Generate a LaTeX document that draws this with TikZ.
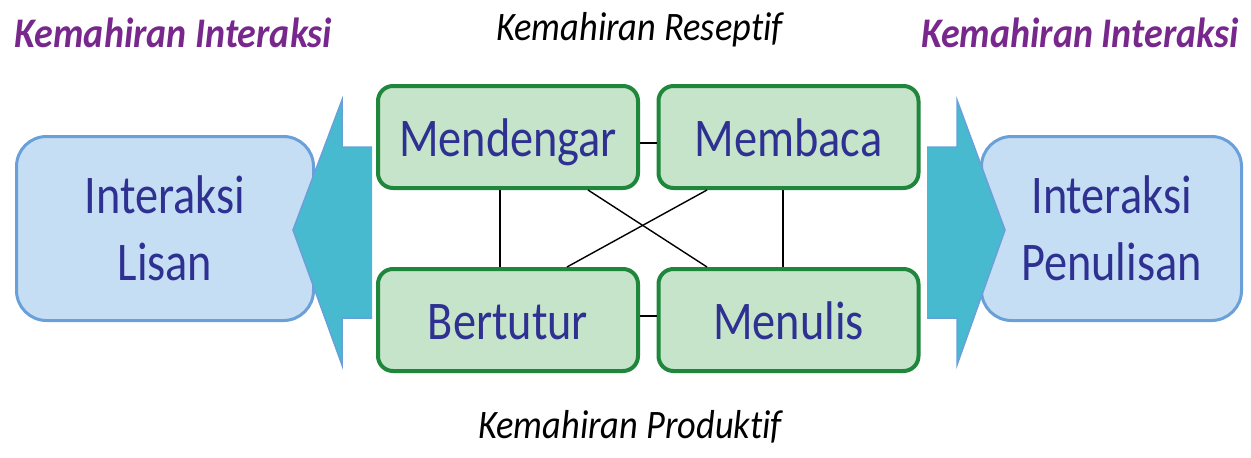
\documentclass[tikz,border=0pt]{standalone}
\usepackage{fontspec}
\setmainfont{Carlito}
\newfontfamily\boxfont[FakeStretch=0.85]{Carlito}
\newfontfamily\headfont[FakeStretch=0.9, Ligatures=NoCommon]{Carlito}

\definecolor{skillfill}{RGB}{197,228,201}
\definecolor{skillline}{RGB}{30,135,60}
\definecolor{modefill}{RGB}{198,222,243}
\definecolor{modeline}{RGB}{105,160,218}
\definecolor{arrowfill}{RGB}{72,186,208}
\definecolor{labelblue}{RGB}{46,49,146}
\definecolor{headpurple}{RGB}{120,40,140}

\tikzset{
	skill/.style={draw=skillline, fill=skillfill, line width=0.08cm, rounded corners=0.3cm,
		minimum width=5.2cm, minimum height=2.04cm, text=labelblue,
		text height=0.96cm, text depth=0.2cm,
		font=\boxfont\fontsize{31}{36}\selectfont},
	mode/.style={draw=modeline, fill=modefill, line width=0.06cm, rounded corners=0.6cm,
		minimum height=3.68cm, text=labelblue, align=center,
		font=\boxfont\fontsize{31}{38}\selectfont},
	bigarrow/.style={draw=modeline, fill=arrowfill, line width=0.03cm},
	link/.style={line width=0.8pt},
	headline/.style={anchor=base, font=\headfont\itshape\fontsize{23}{26}\selectfont},
	interaksi/.style={anchor=base, text=headpurple, font=\headfont\bfseries\itshape\fontsize{24}{28}\selectfont}
}

\begin{document}
\begin{tikzpicture}
	\useasboundingbox (0, 0) rectangle (25.02, 9.14);

	\node[mode, minimum width=5.94cm] (Lisan) at (3.3, 4.57) {Interaksi\\Lisan};
	\node[mode, minimum width=5.2cm] (Penulisan) at (22.23, 4.57) {Interaksi\\Penulisan};

	\filldraw[bigarrow] (7.44, 6.2) -- (6.84, 6.2) -- (6.84, 7.14) -- (5.86, 4.54) -- (6.84, 1.84) -- (6.84, 2.78) -- (7.44, 2.78);
	\filldraw[bigarrow] (18.54, 6.2) -- (19.14, 6.2) -- (19.14, 7.14) -- (20.1, 4.54) -- (19.14, 1.84) -- (19.14, 2.78) -- (18.54, 2.78);

	\node[skill] (Mendengar) at (10.16, 6.4) {Mendengar};
	\node[skill] (Membaca) at (15.77, 6.4) {Membaca};
	\node[skill] (Bertutur) at (10.16, 2.74) {Bertutur};
	\node[skill] (Menulis) at (15.77, 2.74) {Menulis};

	\draw[link] ([yshift=-0.12cm]Mendengar.east) -- ([yshift=-0.12cm]Membaca.west);
	\draw[link] ([yshift=0.08cm]Bertutur.east) -- ([yshift=0.08cm]Menulis.west);
	\draw[link] ([xshift=-0.16cm]Mendengar.south) -- ([xshift=-0.16cm]Bertutur.north);
	\draw[link] ([xshift=-0.11cm]Membaca.south) -- ([xshift=-0.11cm]Menulis.north);
	\draw[link] ([xshift=1.6cm]Mendengar.south) -- ([xshift=-1.63cm]Menulis.north);
	\draw[link] ([xshift=-1.63cm]Membaca.south) -- ([xshift=1.18cm]Bertutur.north);

	\node[interaksi] (kiri) at (3.47, 8.2) {Kemahiran Interaksi};
	\node[interaksi] (kanan) at (21.6, 8.2) {Kemahiran Interaksi};
	\node[headline] (reseptif) at (12.79, 8.34) {Kemahiran Reseptif};
	\node[headline] (produktif) at (12.6, 0.38) {Kemahiran Produktif};

\end{tikzpicture}
\end{document}
